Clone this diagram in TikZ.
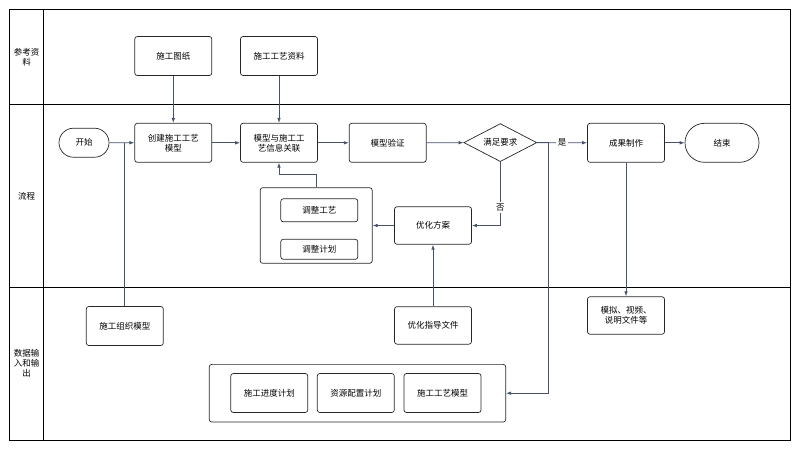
\documentclass[tikz,border=0pt]{standalone}
\usepackage{fontspec}
\setmainfont{Noto Sans CJK SC}
\usepackage{xcolor}
\usepackage{tikz}
\usetikzlibrary{arrows.meta}
\usetikzlibrary{shapes.geometric,shapes.misc}
\definecolor{flowline}{HTML}{46536A}
\colorlet{boxline}{black!85}
\newcommand\txt{\fontsize{8.5}{10}\selectfont}
\tikzstyle{lane}=[line width=.9pt]
\tikzstyle{procbox}=[draw=boxline,rounded corners=2.5pt,line width=.7pt,minimum width=77pt,minimum height=39pt,align=center,inner sep=1pt,font=\txt]
\tikzstyle{termbox}=[draw=boxline,rounded rectangle,line width=.7pt,minimum height=29pt,inner sep=1pt,font=\txt]
\tikzstyle{decision}=[draw=boxline,diamond,aspect=2,inner sep=0pt,line width=.7pt,minimum width=73pt,minimum height=38pt,font=\txt]
\tikzstyle{groupbox}=[draw=boxline,rounded corners=2.5pt,line width=.7pt]
\tikzstyle{flow}=[line width=.8pt,draw=flowline,-{Latex[length=5pt,width=3.6pt]}]
\tikzstyle{flowjoin}=[line width=.8pt,draw=flowline]
\begin{document}
\begin{tikzpicture}[x=1pt,y=-1pt]
	\useasboundingbox (0,0) rectangle (800,451);
	% lanes
	\draw[lane] (9.5,9.5) rectangle (790.7,440.7);
	\draw[lane] (43.3,9.5) -- (43.3,440.7);
	\draw[lane] (9.5,104) -- (790.7,104);
	\draw[lane] (9.5,287.3) -- (790.7,287.3);
	\node[align=center,font=\txt] (laneref)  at (26.5,57)  {参考资\\料};
	\node[align=center,font=\txt] (laneflow) at (26.5,196) {流程};
	\node[align=center,font=\txt] (lanedata) at (26.5,363) {数据输\\入和输\\出};
	% reference lane
	\node[procbox] (drawings) at (173.3,56) {施工图纸};
	\node[procbox] (techdata) at (279,56)   {施工工艺资料};
	% flow lane
	\node[termbox,minimum width=52pt,minimum height=29pt] (start) at (84,142.7) {开始};
	\node[procbox] (create) at (173.3,142.8) {创建施工工艺\\模型};
	\node[procbox] (link)   at (279,142.8)   {模型与施工工\\艺信息关联};
	\node[procbox] (verify) at (387.7,142.8) {模型验证};
	\node[decision] (check) at (500.3,142.6) {满足要求};
	\node[procbox] (result) at (626,142.8)   {成果制作};
	\node[termbox,minimum width=76pt,minimum height=39pt] (finish) at (722,142.8) {结束};
	\node[groupbox,minimum width=112pt,minimum height=75.6pt] (adjgrp) at (316.2,225.5) {};
	\node[procbox,minimum height=23pt] (adjtech) at (319.3,210.3) {调整工艺};
	\node[procbox,minimum height=20pt] (adjplan) at (319.3,249.3) {调整计划};
	\node[procbox,minimum height=37.5pt] (optim) at (433,225.5) {优化方案};
	% data lane
	\node[procbox] (orgmodel) at (124.8,326)   {施工组织模型};
	\node[procbox,minimum height=37.5pt] (guide) at (433,325.4) {优化指导文件};
	\node[procbox,minimum height=37.5pt] (media) at (626,315.5) {模拟、视频、\\说明文件等};
	\node[groupbox,minimum width=296.4pt,minimum height=57.7pt] (outgrp) at (357.5,393.2) {};
	\node[procbox] (schedule) at (269.3,393) {施工进度计划};
	\node[procbox] (resource) at (355.8,393) {资源配置计划};
	\node[procbox] (techmodel) at (442.5,393) {施工工艺模型};
	% connectors
	\draw[flow] (drawings) -- (create);
	\draw[flow] (techdata) -- (link);
	\draw[flow] (start) -- (create);
	\coordinate (orgjoin) at (orgmodel.north |- start.east);
	\draw[flowjoin] (orgmodel.north) -- (orgjoin);
	\draw[flow] (create) -- (link);
	\draw[flow] (link) -- (verify);
	\draw[flow] (verify) -- (check);
	\draw[flow] (check) -- node[fill=white,inner sep=2pt,font=\txt]{是} (result);
	\draw[flow] (result) -- (finish);
	\draw[flow] (check.south) |- node[pos=.36,fill=white,inner sep=2pt,font=\txt]{否} (optim.east);
	\draw[flow] (optim) -- (adjgrp);
	\draw[flow] (adjgrp.north) -- ++(0,-12.7) -| (link.south);
	\draw[flow] (guide) -- (optim);
	\draw[flow] (result) -- (media);
	\draw[flow] (check.east) -- ++(11.6,0) |- (outgrp.east);
\end{tikzpicture}
\end{document}
